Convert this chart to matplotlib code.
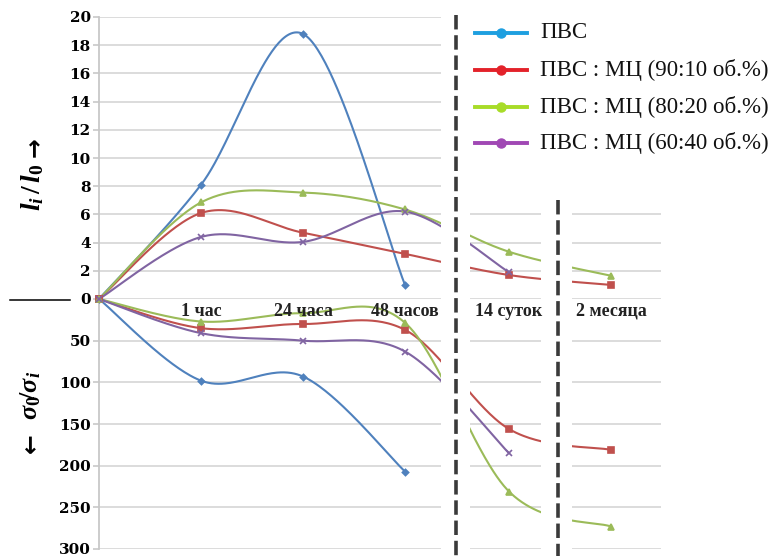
import numpy as np
import matplotlib
matplotlib.use("Agg")
import matplotlib.pyplot as plt
from matplotlib.lines import Line2D

# ---- data -------------------------------------------------------------
categories = ["", "1 час", "24 часа", "48 часов", "14 суток", "2 месяца"]
series_names = ["ПВС", "ПВС : МЦ (90:10 об.%)", "ПВС : МЦ (80:20 об.%)",
                "ПВС : МЦ (60:40 об.%)"]

# relative elongation l_i / l_0 (upper half)
elong_pvs = [0, 8.1, 18.8, 1.0, None, None]
elong_90 = [0, 6.1, 4.7, 3.2, 1.7, 1.0]
elong_80 = [0, 6.85, 7.55, 6.35, 3.35, 1.65]
elong_60 = [0, 4.4, 4.05, 6.2, 1.9, None]

# strength ratio sigma_0 / sigma_i (lower half, pointing down)
ratio_pvs = [0, 98, 93, 207, None, None]
ratio_90 = [0, 35, 30, 37, 156, 181]
ratio_80 = [0, 27, 17, 28.5, 231, 273]
ratio_60 = [0, 41, 50, 63, 185, None]

elong_ticks = [0, 2, 4, 6, 8, 10, 12, 14, 16, 18, 20]
ratio_ticks = [50, 100, 150, 200, 250, 300]
short_elong_ticks = [0, 2, 4, 6]

# ---- styles -----------------------------------------------------------
line_colors = ["#4F81BD", "#C0504D", "#9BBB59", "#8064A2"]
markers = ["D", "s", "^", "x"]
msizes = [3.2, 4.2, 4.5, 4.5]
legend_colors = ["#1E9FE0", "#E3222A", "#A8DC28", "#A048B4"]

plt.rcParams["mathtext.fontset"] = "custom"
plt.rcParams["mathtext.it"] = "Liberation Serif:italic:bold"
plt.rcParams["mathtext.rm"] = "Liberation Serif:bold"
plt.rcParams["mathtext.bf"] = "Liberation Serif:bold"

W, H = 774, 556
fig = plt.figure(figsize=(W / 100, H / 100), dpi=100)

GRID = "#d9d9d9"
Y_TOP, Y_ZERO, Y_BOT = 17, 299, 549
STEP = 102.0  # pixels between neighbouring categories


def smooth(ys, n=60):
    """Cardinal (Catmull-Rom) smoothing through the available points."""
    P = np.array([(i, v) for i, v in enumerate(ys) if v is not None], float)
    ext = np.vstack([P[0], P, P[-1]])
    t = np.linspace(0, 1, n)[1:, None]
    h00 = 2 * t**3 - 3 * t**2 + 1
    h10 = t**3 - 2 * t**2 + t
    h01 = -2 * t**3 + 3 * t**2
    h11 = t**3 - t**2
    out = [P[:1]]
    for i in range(len(P) - 1):
        m0 = (ext[i + 2] - ext[i]) / 2
        m1 = (ext[i + 3] - ext[i + 1]) / 2
        out.append(h00 * P[i] + h10 * m0 + h01 * P[i + 1] + h11 * m1)
    c = np.vstack(out)
    return c[:, 0], c[:, 1]


elong_series = [elong_pvs, elong_90, elong_80, elong_60]
ratio_series = [ratio_pvs, ratio_90, ratio_80, ratio_60]

# panels: (left px, right px, category index, pixel of that category)
panels = [
    (99, 441, 0, 99, True),
    (470, 541, 4, 509, False),
    (572, 661, 5, 611, False),
]

for x0, x1, cat, cat_px, is_main in panels:
    xlim = (cat + (x0 - cat_px) / STEP, cat + (x1 - cat_px) / STEP)
    ax_up = fig.add_axes([x0 / W, 1 - Y_ZERO / H, (x1 - x0) / W,
                          (Y_ZERO - Y_TOP) / H])
    ax_lo = fig.add_axes([x0 / W, 1 - Y_BOT / H, (x1 - x0) / W,
                          (Y_BOT - Y_ZERO) / H])
    ax_up.set_ylim(0, 20)
    ax_lo.set_ylim(300, 0)
    for ax in (ax_up, ax_lo):
        ax.set_xlim(*xlim)
        ax.set_facecolor("none")
        ax.set_xticks([])
        for s in ax.spines.values():
            s.set_visible(False)
        ax.yaxis.grid(True, color=GRID, lw=1.3)
        ax.set_axisbelow(True)
    if is_main:
        ax_up.set_yticks(elong_ticks)
        ax_lo.set_yticks(ratio_ticks)
        for ax in (ax_up, ax_lo):
            ax.spines["left"].set_visible(True)
            ax.spines["left"].set_color("#c8c8c8")
            ax.spines["left"].set_linewidth(1.3)
            ax.tick_params(axis="y", length=4, width=1.2, color="#c8c8c8",
                           pad=2, labelsize=11)
            for lab in ax.get_yticklabels():
                lab.set_fontfamily("DejaVu Serif")
                lab.set_fontweight("bold")
                lab.set_verticalalignment("center_baseline")
    else:
        ax_up.set_yticks(short_elong_ticks)
        ax_lo.set_yticks(ratio_ticks)
        for ax in (ax_up, ax_lo):
            ax.tick_params(axis="y", length=0, labelleft=False)

    for k in range(4):
        for ax, data in ((ax_up, elong_series[k]), (ax_lo, ratio_series[k])):
            xs, ys = smooth(data)
            ax.plot(xs, ys, color=line_colors[k], lw=1.5, zorder=3)
            px = [i for i, v in enumerate(data)
                  if v is not None and xlim[0] - 1e-9 <= i <= xlim[1]]
            ax.plot(px, [data[i] for i in px], ls="none",
                    marker=markers[k], ms=msizes[k], color=line_colors[k],
                    mec=line_colors[k], mew=1.2, clip_on=False, zorder=4)

    for i, lab in enumerate(categories):
        if lab and xlim[0] <= i <= xlim[1]:
            ax_lo.text(i, 14.5, lab, ha="center", va="center", fontsize=13,
                       fontfamily="Liberation Serif", fontweight="bold",
                       color="#222222", zorder=6, clip_on=False)

# axis titles
fig.text(33 / W, 1 - 187 / H, r"$l_i\,/\,l_0$", rotation=90,
         ha="center", va="center", fontsize=20,
         fontfamily="Liberation Serif", fontweight="bold")
fig.text(34 / W, 1 - 147 / H, "→", rotation=90, ha="center", va="center",
         fontsize=17, fontfamily="DejaVu Sans", fontweight="bold")
fig.text(31 / W, 1 - 395 / H, r"$σ_0\!/σ_i$", rotation=90,
         ha="center", va="center", fontsize=19,
         fontfamily="Liberation Serif", fontweight="bold")
fig.text(30 / W, 1 - 443 / H, "←", rotation=90, ha="center", va="center",
         fontsize=17, fontfamily="DejaVu Sans", fontweight="bold")

# separators
fig.add_artist(Line2D([10 / W, 70 / W], [1 - 300 / H] * 2, color="black",
                      lw=1.1, transform=fig.transFigure))
fig.add_artist(Line2D([456 / W] * 2, [1 - 15 / H, 0], color="#3a3a3a",
                      lw=2.6, ls=(0, (4, 1.6)), transform=fig.transFigure))
fig.add_artist(Line2D([558 / W] * 2, [1 - 200 / H, 0], color="#3a3a3a",
                      lw=2.6, ls=(0, (4, 1.6)), transform=fig.transFigure))

# legend
legend_rows = [33, 70, 107, 143]
for k, name in enumerate(series_names):
    yy = 1 - legend_rows[k] / H
    fig.add_artist(Line2D([475 / W, 527 / W], [yy, yy], color=legend_colors[k],
                          lw=2.8, transform=fig.transFigure))
    fig.add_artist(Line2D([501 / W], [yy], color=legend_colors[k], marker="o",
                          ms=6.5, transform=fig.transFigure))
    fig.text(540 / W, yy, name, ha="left", va="center", fontsize=16.5,
             fontfamily="Liberation Serif", color="#111111")

fig.savefig("out.png", dpi=100)
